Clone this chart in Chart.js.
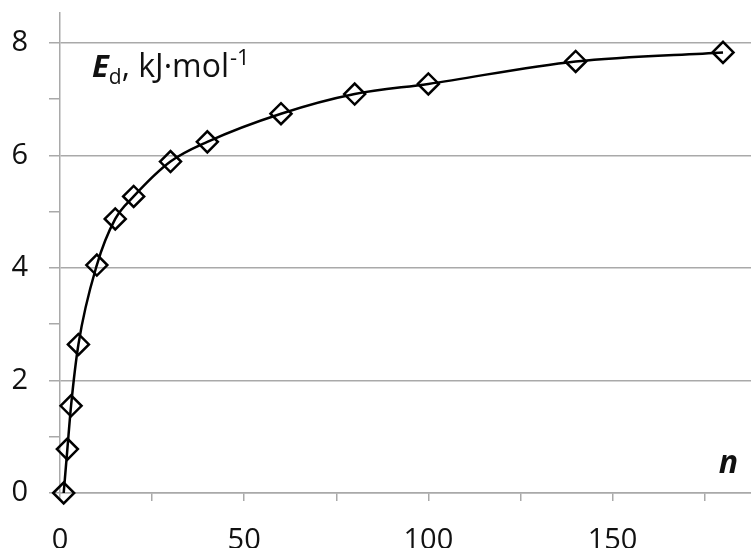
<html>

<head>
  <style>
    html, body { margin: 0; padding: 0; overflow: hidden; background: #fff; }
    #wrap { width: 751px; height: 548px; position: relative; }
  </style>
</head>
<script src="https://cdn.jsdelivr.net/npm/chart.js"></script>

<body>
  <div id="wrap">
    <canvas id="myChart"></canvas>
  </div>
</body>

<script>
  // n (number of units) and dissociation energy Ed, kJ/mol
  const nValues = [1, 2, 3, 5, 10, 15, 20, 30, 40, 60, 80, 100, 140, 180];
  const edValues = [0, 0.78, 1.55, 2.64, 4.05, 4.87, 5.27, 5.89, 6.24, 6.74, 7.09, 7.27, 7.67, 7.83];
  const xTicks = [0, 25, 50, 75, 100, 125, 150, 175];
  const yTicks = [0, 1, 2, 3, 4, 5, 6, 7, 8];

  const FONT = "'Open Sans', sans-serif";
  const gridGray = '#a9a9a9';

  const points = nValues.map((n, i) => ({ x: n, y: edValues[i] }));

  // no extra room around the plot for the tick labels (like the original)
  function noPad(scale) {
    scale.paddingTop = 0;
    scale.paddingBottom = 0;
    scale.paddingLeft = 0;
    scale.paddingRight = 0;
  }

  // axis captions drawn on the canvas
  const captions = {
    id: 'captions',
    afterDraw(chart) {
      const ctx = chart.ctx;
      const area = chart.chartArea;
      ctx.save();
      ctx.fillStyle = '#111';
      ctx.textBaseline = 'alphabetic';
      let x = area.left + 32;
      const base = area.top + 64;
      ctx.font = "italic bold 31px " + FONT;
      ctx.fillText('E', x, base);
      x += ctx.measureText('E').width;
      ctx.font = "21px " + FONT;
      ctx.fillText('d', x, base + 7);
      x += ctx.measureText('d').width;
      ctx.font = "32px " + FONT;
      ctx.fillText(', kJ\u00b7mol', x, base);
      x += ctx.measureText(', kJ\u00b7mol').width + 1;
      ctx.font = "22px " + FONT;
      ctx.fillText('-1', x, base - 12);

      ctx.font = "italic bold 32px " + FONT;
      ctx.textAlign = 'right';
      ctx.fillText('n', area.right - 13, area.bottom - 20);
      ctx.restore();
    }
  };

  const config = {
    type: 'scatter',
    data: {
      datasets: [{
        data: points,
        showLine: true,
        clip: false,
        borderColor: '#000',
        borderWidth: 2.5,
        cubicInterpolationMode: 'monotone',
        pointStyle: 'rectRot',
        pointRadius: 10.5,
        pointBorderWidth: 2.5,
        pointBorderColor: '#000',
        pointBackgroundColor: 'rgba(0,0,0,0)'
      }]
    },
    options: {
      responsive: true,
      maintainAspectRatio: false,
      animation: false,
      layout: { autoPadding: false, padding: { left: 0, right: 0, top: 13, bottom: 0 } },
      plugins: {
        legend: { display: false },
        tooltip: { enabled: false }
      },
      scales: {
        x: {
          type: 'linear',
          min: 0,
          max: 187.6,
          afterBuildTicks: (scale) => { scale.ticks = xTicks.map(v => ({ value: v })); },
          afterFit: (scale) => { scale.height = 55; noPad(scale); },
          border: { color: gridGray, width: 1.5 },
          grid: { drawOnChartArea: false, tickLength: 8, color: gridGray, lineWidth: 1.5 },
          ticks: {
            autoSkip: false,
            maxRotation: 0,
            padding: 22,
            color: '#111',
            font: { family: FONT, size: 29 },
            callback: (v) => (v % 50 === 0 ? String(v) : '')
          }
        },
        y: {
          type: 'linear',
          min: 0,
          max: 8.53,
          afterBuildTicks: (scale) => { scale.ticks = yTicks.map(v => ({ value: v })); },
          afterFit: (scale) => { scale.width = 60; noPad(scale); },
          border: { color: gridGray, width: 1.5 },
          grid: {
            tickLength: 11,
            lineWidth: 1.5,
            color: (c) => (c.tick && c.tick.value % 2 === 0 ? gridGray : 'rgba(0,0,0,0)'),
            tickColor: gridGray
          },
          ticks: {
            autoSkip: false,
            padding: 21,
            color: '#111',
            font: { family: FONT, size: 29 },
            callback: (v) => (v % 2 === 0 ? String(v) : '')
          }
        }
      }
    },
    plugins: [captions]
  };

  const myChart = new Chart(document.getElementById('myChart'), config);
</script>

</html>
